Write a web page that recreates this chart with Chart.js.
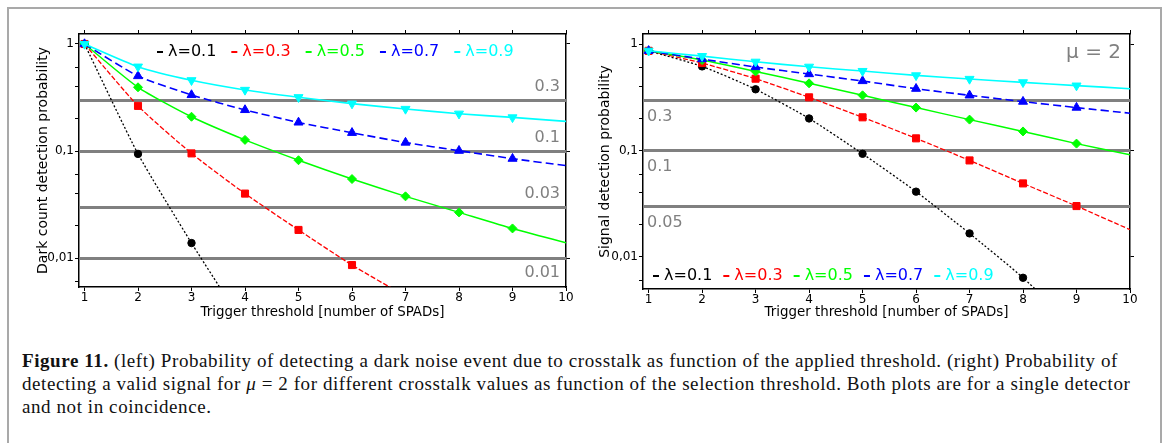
<!DOCTYPE html>
<html>
<head>
<meta charset="utf-8">
<script src="https://cdn.jsdelivr.net/npm/chart.js@4.4.0/dist/chart.umd.min.js"></script>
<style>
  body { margin: 0; background: #fff; width: 1167px; height: 443px; overflow: hidden; position: relative; }
  #frame { position: absolute; left: 7px; top: 7px; width: 1155px; height: 470px; border: 2px solid #a9a9a9; box-sizing: border-box; }
  .plot { position: absolute; top: 0; }
  #caption { position: absolute; left: 22px; top: 349px; font-family: 'Liberation Serif', serif; font-size: 19px; letter-spacing: 0.58px; line-height: 23px; white-space: nowrap; color: #111; }
</style>
</head>
<body>
<div id="frame"></div>
<div class="plot" style="left:0"><canvas id="left" width="583" height="330"></canvas></div>
<div class="plot" style="left:583px"><canvas id="right" width="567" height="330"></canvas></div>
<div id="caption"><b>Figure 11.</b> (left) Probability of detecting a dark noise event due to crosstalk as function of the applied threshold. (right) Probability of<br>detecting a valid signal for <i>μ</i>&nbsp;=&nbsp;2 for different crosstalk values as function of the selection threshold. Both plots are for a single detector<br>and not in coincidence.</div>
<script>
// trigger threshold (number of SPADs)
const thresholds = [1, 2, 3, 4, 5, 6, 7, 8, 9, 10];
const lambdas = ['λ=0.1', 'λ=0.3', 'λ=0.5', 'λ=0.7', 'λ=0.9'];

// left: dark count detection probability
const darkL01 = [1, 0.094, 0.0138, 0.0023];
const darkL03 = [1, 0.264, 0.095, 0.040, 0.0183, 0.0086, 0.0044];
const darkL05 = [1, 0.394, 0.209, 0.127, 0.082, 0.0547, 0.0377, 0.0267, 0.0189, 0.0139];
const darkL07 = [1, 0.502, 0.334, 0.242, 0.185, 0.148, 0.120, 0.1007, 0.0848, 0.073];
const darkL09 = [1, 0.614, 0.458, 0.372, 0.318, 0.277, 0.247, 0.223, 0.206, 0.189];

// right: signal detection probability, mu = 2
const sigL01 = [0.865, 0.617, 0.376, 0.200, 0.093, 0.041, 0.0166, 0.00635, 0.0021];
const sigL03 = [0.865, 0.664, 0.473, 0.316, 0.205, 0.130, 0.0806, 0.049, 0.030, 0.018];
const sigL05 = [0.865, 0.708, 0.554, 0.428, 0.330, 0.253, 0.195, 0.151, 0.116, 0.091];
const sigL07 = [0.865, 0.723, 0.609, 0.523, 0.450, 0.381, 0.330, 0.288, 0.253, 0.224];
const sigL09 = [0.865, 0.771, 0.682, 0.612, 0.558, 0.508, 0.470, 0.437, 0.407, 0.381];

// reference levels (grey lines) and their texts
const darkLevels = [0.3, 0.1, 0.03, 0.01];
const darkLevelText = ['0.3', '0.1', '0.03', '0.01'];
const sigLevels = [0.3, 0.1, 0.03];
const sigLevelText = ['0.3', '0.1', '0.05'];

// y ticks
const yTicks = [1, 0.6, 0.4, 0.2, 0.1, 0.06, 0.04, 0.02, 0.01, 0.006];
const yTickText = ['1', '', '', '', '0,1', '', '', '', '0,01', ''];
const yMajor = [1, 0.1, 0.01];

Chart.defaults.font.family = 'DejaVu Sans';
Chart.defaults.color = '#000';

const styles = [
    { color: '#000000', dash: [2, 2], width: 1.3, point: 'circle', r: 3.7, rot: 0 },
    { color: '#ff0000', dash: [5, 2], width: 1.3, point: 'rect', r: 5, rot: 0 },
    { color: '#00ff00', dash: [], width: 1.5, point: 'rectRot', r: 4.5, rot: 0 },
    { color: '#0000ff', dash: [8, 4], width: 1.6, point: 'triangle', r: 5.2, rot: 0 },
    { color: '#00ffff', dash: [], width: 1.6, point: 'triangle', r: 5.2, rot: 180 }
];

function toXY(vals) {
    return vals.map((v, i) => ({ x: thresholds[i], y: v }));
}

// grey threshold lines drawn under the curves
const levelLines = {
    id: 'levelLines',
    beforeDatasetsDraw(chart, args, opts) {
        const { ctx, chartArea } = chart;
        const y = chart.scales.y;
        ctx.save();
        ctx.strokeStyle = '#808080';
        ctx.lineWidth = 3;
        ctx.fillStyle = '#808080';
        ctx.font = '16px "DejaVu Sans"';
        ctx.textBaseline = 'middle';
        ctx.textAlign = opts.align;
        opts.levels.forEach((v, i) => {
            const py = Math.round(y.getPixelForValue(v)) + 0.5;
            ctx.beginPath();
            ctx.moveTo(chartArea.left, py);
            ctx.lineTo(chartArea.right, py);
            ctx.stroke();
            const tx = opts.align === 'right' ? chartArea.right - 6 : chartArea.left + 4;
            ctx.fillText(opts.texts[i], tx, py + opts.offsets[i]);
        });
        if (opts.note) {
            ctx.font = '20px "DejaVu Sans"';
            ctx.textAlign = 'right';
            ctx.fillText(opts.note, chartArea.right - 9, chartArea.top + 19);
        }
        ctx.restore();
    }
};

// legend written inside the plot, coloured text with a short dash
const inlineLegend = {
    id: 'inlineLegend',
    afterDatasetsDraw(chart, args, opts) {
        const ctx = chart.ctx;
        ctx.save();
        ctx.font = '16px "DejaVu Sans"';
        ctx.textBaseline = 'middle';
        ctx.textAlign = 'left';
        let x = opts.x;
        chart.data.datasets.forEach(ds => {
            ctx.fillStyle = ds.borderColor;
            ctx.fillRect(x, opts.y - 1, 6, 2);
            ctx.fillText(ds.label, x + 11, opts.y);
            x += 11 + ctx.measureText(ds.label).width + opts.gap;
        });
        ctx.restore();
    }
};

function makeChart(id, series, cfg) {
    const datasets = series.map((vals, i) => {
        const s = styles[i];
        return {
            label: lambdas[i],
            data: toXY(vals),
            borderColor: s.color,
            backgroundColor: s.color,
            borderWidth: s.width,
            borderDash: s.dash,
            pointStyle: s.point,
            pointRotation: s.rot,
            pointRadius: c => (c.raw && c.raw.x >= 10 ? 0 : s.r),
            pointBorderWidth: 1,
            tension: 0.2,
            clip: 0,
            order: 4 - i
        };
    });

    const xTicks = s => { s.ticks = thresholds.map(v => ({ value: v })); };
    const axisBorder = { display: true, color: '#000', width: 1.5 };
    const tickGrid = { drawOnChartArea: false, tickLength: 4, color: '#000', tickWidth: 1 };

    return new Chart(document.getElementById(id), {
        type: 'line',
        data: { datasets },
        plugins: [levelLines, inlineLegend],
        options: {
            responsive: false,
            animation: false,
            layout: { padding: 0 },
            plugins: {
                legend: { display: false },
                tooltip: { enabled: false },
                levelLines: cfg.levels,
                inlineLegend: cfg.legend
            },
            scales: {
                x: {
                    type: 'linear', position: 'bottom', min: cfg.xMin, max: 10,
                    afterBuildTicks: xTicks,
                    afterFit: s => { s.height = cfg.bottomH; },
                    ticks: { font: { size: 12 }, padding: 0, maxRotation: 0, callback: v => String(v) },
                    grid: tickGrid,
                    border: axisBorder,
                    title: { display: true, text: 'Trigger threshold [number of SPADs]', font: { size: 13.4 }, padding: { top: 0, bottom: 9 } }
                },
                x2: {
                    type: 'linear', position: 'top', min: cfg.xMin, max: 10,
                    afterBuildTicks: xTicks,
                    afterFit: s => { s.height = 34; },
                    ticks: { display: false },
                    grid: tickGrid,
                    border: axisBorder
                },
                y: {
                    type: 'logarithmic', position: 'left', min: cfg.yMin, max: cfg.yMax,
                    afterBuildTicks: s => { s.ticks = yTicks.map(v => ({ value: v })); },
                    afterFit: s => { s.width = cfg.leftW; },
                    ticks: { font: { size: 12 }, padding: 1, autoSkip: false, callback: (v, i) => yTickText[i] },
                    grid: tickGrid,
                    border: axisBorder,
                    title: { display: true, text: cfg.yTitle, font: { size: 14 }, padding: { top: cfg.yTitlePad, bottom: 0 } }
                },
                y2: {
                    type: 'logarithmic', position: 'right', min: cfg.yMin, max: cfg.yMax,
                    afterBuildTicks: s => { s.ticks = yMajor.map(v => ({ value: v })); },
                    afterFit: s => { s.width = cfg.rightW; },
                    ticks: { display: false },
                    grid: tickGrid,
                    border: axisBorder
                }
            }
        }
    });
}

makeChart('left', [darkL01, darkL03, darkL05, darkL07, darkL09], {
    xMin: 0.897, yMin: 0.00536, yMax: 1.24,
    leftW: 79, rightW: 17, bottomH: 43, yTitlePad: 35,
    yTitle: 'Dark count detection probability',
    levels: { levels: darkLevels, texts: darkLevelText, align: 'right', offsets: [-14, -14, -14, 14] },
    legend: { x: 157, y: 52, gap: 15 }
});

makeChart('right', [sigL01, sigL03, sigL05, sigL07, sigL09], {
    xMin: 0.895, yMin: 0.00498, yMax: 1.245,
    leftW: 60, rightW: 20, bottomH: 41, yTitlePad: 14,
    yTitle: 'Signal detection probability',
    levels: { levels: sigLevels, texts: sigLevelText, align: 'left', offsets: [16, 16, 16], note: 'μ = 2' },
    legend: { x: 70, y: 276, gap: 11 }
});
</script>
</body>
</html>
